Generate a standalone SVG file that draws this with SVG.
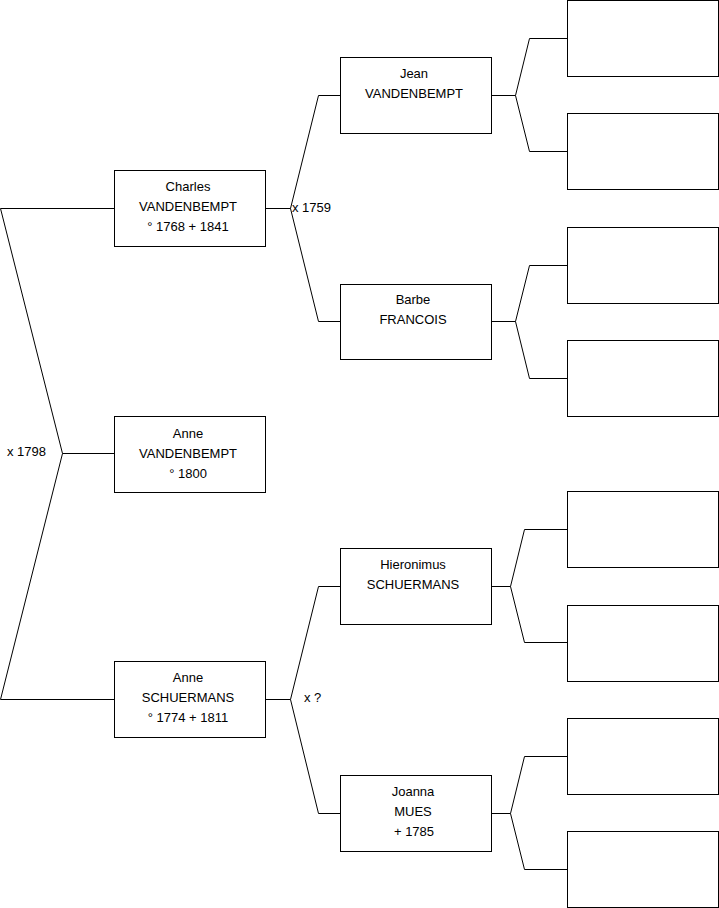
<svg xmlns="http://www.w3.org/2000/svg" width="719" height="908" viewBox="0 0 719 908">
<style>
.box{fill:#fff;stroke:#000;stroke-width:1}
.ln{fill:none;stroke:#000;stroke-width:1}
text{font-family:"Liberation Sans",Arial,sans-serif;font-size:13px;fill:#000}
.c{text-anchor:middle}
</style>
<rect width="719" height="908" fill="#fff"/>
<g id="connectors">
<path class="ln" d="M0.5,208.5H114.5 M0.5,208.5L62.5,453.5L0.5,699.5H114.5 M62.5,453.5H114.5"/>
<path class="ln" d="M265.5,208.5H290.5 M340.5,95.5H318.5L290.5,208.5L318.5,321.5H340.5"/>
<path class="ln" d="M265.5,699.5H290.5 M340.5,586.5H318.5L290.5,699.5L318.5,813.5H340.5"/>
<path class="ln" d="M491.5,95.5H515.5 M567.5,38.5H529.5L515.5,95.5L529.5,151.5H567.5"/>
<path class="ln" d="M491.5,321.5H515.5 M567.5,265.5H529.5L515.5,321.5L529.5,378.5H567.5"/>
<path class="ln" d="M491.5,586.5H510.5 M567.5,529.5H524.5L510.5,586.5L524.5,642.5H567.5"/>
<path class="ln" d="M491.5,813.5H510.5 M567.5,756.5H524.5L510.5,813.5L524.5,869.5H567.5"/>
<text x="7" y="456">x 1798</text>
<text x="292" y="212">x 1759</text>
<text x="304" y="702">x ?</text>
</g>
<g id="charles"><rect class="box" x="114.5" y="170.5" width="151" height="76"/><text class="c" x="188" y="191">Charles</text><text class="c" x="188" y="211">VANDENBEMPT</text><text class="c" x="188" y="231">° 1768 + 1841</text></g>
<g id="anne-v"><rect class="box" x="114.5" y="416.5" width="151" height="76"/><text class="c" x="188" y="438">Anne</text><text class="c" x="188" y="458">VANDENBEMPT</text><text class="c" x="188" y="478">° 1800</text></g>
<g id="anne-s"><rect class="box" x="114.5" y="661.5" width="151" height="76"/><text class="c" x="188" y="682">Anne</text><text class="c" x="188" y="702">SCHUERMANS</text><text class="c" x="188" y="722">° 1774 + 1811</text></g>
<g id="jean"><rect class="box" x="340.5" y="57.5" width="151" height="76"/><text class="c" x="414" y="78">Jean</text><text class="c" x="414" y="98">VANDENBEMPT</text></g>
<g id="barbe"><rect class="box" x="340.5" y="284.5" width="151" height="75"/><text class="c" x="413" y="304">Barbe</text><text class="c" x="413" y="324">FRANCOIS</text></g>
<g id="hieronimus"><rect class="box" x="340.5" y="548.5" width="151" height="76"/><text class="c" x="413" y="569">Hieronimus</text><text class="c" x="413" y="589">SCHUERMANS</text></g>
<g id="joanna"><rect class="box" x="340.5" y="775.5" width="151" height="76"/><text class="c" x="413" y="796">Joanna</text><text class="c" x="413" y="816">MUES</text><text class="c" x="414" y="836">+ 1785</text></g>
<g id="p1"><rect class="box" x="567.5" y="0.5" width="151" height="76"/></g>
<g id="p2"><rect class="box" x="567.5" y="113.5" width="151" height="76"/></g>
<g id="p3"><rect class="box" x="567.5" y="227.5" width="151" height="76"/></g>
<g id="p4"><rect class="box" x="567.5" y="340.5" width="151" height="76"/></g>
<g id="p5"><rect class="box" x="567.5" y="491.5" width="151" height="76"/></g>
<g id="p6"><rect class="box" x="567.5" y="605.5" width="151" height="76"/></g>
<g id="p7"><rect class="box" x="567.5" y="718.5" width="151" height="76"/></g>
<g id="p8"><rect class="box" x="567.5" y="831.5" width="151" height="76"/></g>
</svg>
